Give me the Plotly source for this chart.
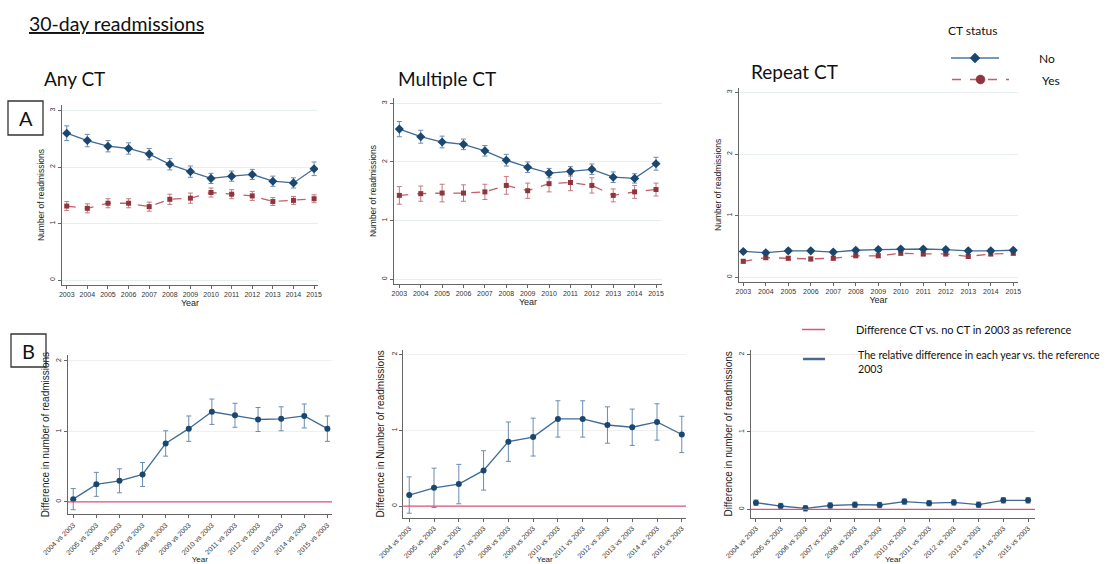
import plotly.graph_objects as go

W, H = 1107, 564

years = list(range(2003, 2016))
diff_labels = [f"{y} vs 2003" for y in range(2004, 2016)]

# Panel A: Any CT
any_no = [2.60, 2.47, 2.37, 2.33, 2.23, 2.05, 1.92, 1.80, 1.84, 1.87, 1.75, 1.72, 1.97]
any_no_err = [0.13, 0.11, 0.10, 0.10, 0.10, 0.10, 0.10, 0.09, 0.09, 0.09, 0.09, 0.09, 0.12]
any_yes = [1.31, 1.27, 1.36, 1.36, 1.30, 1.43, 1.45, 1.55, 1.52, 1.49, 1.39, 1.41, 1.44]
any_yes_err = [0.08, 0.08, 0.08, 0.08, 0.08, 0.09, 0.09, 0.08, 0.08, 0.08, 0.07, 0.07, 0.07]

# Panel A: Multiple CT
mult_no = [2.56, 2.43, 2.34, 2.30, 2.19, 2.03, 1.91, 1.81, 1.84, 1.875, 1.74, 1.72, 1.97]
mult_no_err = [0.13, 0.11, 0.10, 0.09, 0.09, 0.10, 0.09, 0.08, 0.08, 0.09, 0.09, 0.08, 0.11]
mult_yes = [1.43, 1.46, 1.47, 1.47, 1.49, 1.60, 1.51, 1.63, 1.65, 1.60, 1.43, 1.49, 1.53]
mult_yes_err = [0.15, 0.13, 0.15, 0.14, 0.13, 0.15, 0.13, 0.14, 0.14, 0.13, 0.11, 0.11, 0.11]

# Panel A: Repeat CT
rep_no = [0.42, 0.40, 0.43, 0.43, 0.41, 0.44, 0.45, 0.46, 0.46, 0.45, 0.43, 0.43, 0.44]
rep_no_err = [0.03] * 13
rep_yes = [0.26, 0.32, 0.31, 0.30, 0.31, 0.35, 0.35, 0.39, 0.38, 0.38, 0.34, 0.38, 0.39]
rep_yes_err = [0.03] * 13

# Panel B: differences vs 2003
any_diff = [0.04, 0.25, 0.30, 0.39, 0.83, 1.04, 1.28, 1.23, 1.17, 1.18, 1.22, 1.04]
any_diff_err = [0.15, 0.17, 0.17, 0.17, 0.18, 0.18, 0.18, 0.17, 0.17, 0.17, 0.17, 0.18]
mult_diff = [0.145, 0.24, 0.29, 0.47, 0.85, 0.91, 1.15, 1.15, 1.07, 1.04, 1.11, 0.945]
mult_diff_err = [0.24, 0.26, 0.26, 0.26, 0.26, 0.25, 0.24, 0.24, 0.24, 0.24, 0.24, 0.24]
rep_diff = [0.086, 0.043, 0.013, 0.05, 0.06, 0.056, 0.10, 0.08, 0.09, 0.06, 0.116, 0.116]
rep_diff_err = [0.035] * 12

NAVY = "#1a476f"
NAVY_LINE = "#3f6b96"
NAVY_ERR = "#6a8cb0"
MAROON = "#90353b"
MAROON_LINE = "#c06068"
MAROON_ERR = "#c07a80"
PINK = "#e0507a"
TICKFONT = dict(family="Liberation Sans, Arial, sans-serif", size=7, color="#333")
LABFONT = "Lato, 'Open Sans', sans-serif"


def px(x):
    return x / W


def py(y):
    return 1 - y / H


fig = go.Figure()

panels_a = [
    ("x", "y", any_no, any_no_err, any_yes, any_yes_err),
    ("x2", "y2", mult_no, mult_no_err, mult_yes, mult_yes_err),
    ("x3", "y3", rep_no, rep_no_err, rep_yes, rep_yes_err),
]
for xa, ya, no, no_e, yes, yes_e in panels_a:
    fig.add_trace(go.Scatter(
        x=years, y=yes, xaxis=xa, yaxis=ya, mode="lines+markers",
        line=dict(color=MAROON_LINE, width=1.3, dash="dash"),
        marker=dict(symbol="square", size=5, color=MAROON),
        error_y=dict(type="data", array=yes_e, color=MAROON_ERR, thickness=1, width=2.5),
        showlegend=False, hoverinfo="x+y"))
    fig.add_trace(go.Scatter(
        x=years, y=no, xaxis=xa, yaxis=ya, mode="lines+markers",
        line=dict(color=NAVY_LINE, width=1.3),
        marker=dict(symbol="diamond", size=7, color=NAVY),
        error_y=dict(type="data", array=no_e, color=NAVY_ERR, thickness=1, width=2.5),
        showlegend=False, hoverinfo="x+y"))

panels_b = [
    ("x4", "y4", any_diff, any_diff_err),
    ("x5", "y5", mult_diff, mult_diff_err),
    ("x6", "y6", rep_diff, rep_diff_err),
]
for xa, ya, d, de in panels_b:
    fig.add_trace(go.Scatter(
        x=list(range(len(diff_labels))), y=d, xaxis=xa, yaxis=ya, mode="lines+markers",
        line=dict(color=NAVY_LINE, width=1.3),
        marker=dict(symbol="circle", size=6, color=NAVY),
        error_y=dict(type="data", array=de, color=NAVY_ERR, thickness=1, width=2.5),
        showlegend=False, hoverinfo="y"))

layout = dict(
    width=W, height=H, margin=dict(l=0, r=0, t=0, b=0, autoexpand=False),
    paper_bgcolor="white", plot_bgcolor="white", showlegend=False,
)

GRID = "#e6eef0"
AXLINE = "#666"


def xaxis_a(dom, rng, anchor):
    return dict(domain=dom, range=rng, anchor=anchor, tickvals=years, automargin=False,
                ticktext=[str(y) for y in years], tickfont=TICKFONT,
                showline=True, linecolor=AXLINE, linewidth=1, ticks="outside",
                ticklen=3, tickcolor=AXLINE, showgrid=False, zeroline=False,
                title=dict(text="Year", font=dict(family="Liberation Sans, Arial", size=9, color="#222"), standoff=2))


def yaxis_a(dom, rng, anchor, title):
    return dict(domain=dom, range=rng, anchor=anchor, tickvals=[0, 1, 2, 3], automargin=False,
                tickfont=TICKFONT, tickangle=-90, showline=True, linecolor=AXLINE,
                linewidth=1, ticks="outside", ticklen=3, tickcolor=AXLINE,
                showgrid=True, gridcolor=GRID, gridwidth=1, zeroline=False,
                title=dict(text=title, font=dict(family="Liberation Sans, Arial", size=8.5, color="#222"), standoff=3))


def xaxis_b(dom, rng, anchor):
    return dict(domain=dom, range=rng, anchor=anchor, tickvals=list(range(len(diff_labels))),
                automargin=False,
                ticktext=diff_labels, tickfont=TICKFONT, tickangle=-45,
                showline=True, linecolor=AXLINE, linewidth=1, ticks="outside",
                ticklen=3, tickcolor=AXLINE, showgrid=False, zeroline=False,
                title=dict(text="Year", font=dict(family="Liberation Sans, Arial", size=8, color="#222"), standoff=2))


def yaxis_b(dom, rng, anchor, title):
    return dict(domain=dom, range=rng, anchor=anchor, tickvals=[0, 1, 2], automargin=False,
                tickfont=TICKFONT, tickangle=-90, showline=True, linecolor=AXLINE,
                linewidth=1, ticks="outside", ticklen=3, tickcolor=AXLINE,
                showgrid=True, gridcolor="#f0f0f0", gridwidth=1, zeroline=False,
                title=dict(text=title, font=dict(family="Liberation Sans, Arial", size=10, color="#222"), standoff=3))


layout["xaxis"] = xaxis_a([px(62), px(318)], [2002.77, 2015.19], "y")
layout["yaxis"] = yaxis_a([py(285), py(105)], [-0.088, 3.1], "x", "Number of readmissions")
layout["xaxis2"] = xaxis_a([px(394), px(662)], [2002.75, 2015.28], "y2")
layout["yaxis2"] = yaxis_a([py(284), py(98)], [-0.08, 3.09], "x2", "Number of readmissions")
layout["xaxis3"] = xaxis_a([px(739), px(1018)], [2002.81, 2015.21], "y3")
layout["yaxis3"] = yaxis_a([py(281.7), py(88)], [-0.07, 3.07], "x3", "Number of readmissions")

layout["xaxis4"] = xaxis_b([px(67.7), px(332)], [-0.24, 11.2], "y4")
layout["yaxis4"] = yaxis_b([py(514.3), py(355)], [-0.175, 2.085], "x4", "Difference in number of readmissions")
layout["xaxis5"] = xaxis_b([px(403.3), px(686)], [-0.24, 11.17], "y5")
layout["yaxis5"] = yaxis_b([py(517.7), py(350)], [-0.154, 2.06], "x5", "Difference in Number of readmissions")
layout["xaxis6"] = xaxis_b([px(751), px(1035)], [-0.2, 11.28], "y6")
layout["yaxis6"] = yaxis_b([py(517.7), py(350)], [-0.108, 2.06], "x6", "Difference in number of readmissions")

fig.update_layout(**layout)

shapes = []
# reference lines at zero in panel B
for xa, ya in [("x4", "y4"), ("x5", "y5"), ("x6", "y6")]:
    shapes.append(dict(type="line", xref=f"{xa} domain", yref=ya, x0=0, x1=1, y0=0, y1=0,
                       line=dict(color=PINK, width=1.3), layer="above"))

# A / B boxes
shapes.append(dict(type="rect", xref="paper", yref="paper", x0=px(8), x1=px(43), y0=py(135), y1=py(101),
                   line=dict(color="#333", width=1.3)))
shapes.append(dict(type="rect", xref="paper", yref="paper", x0=px(11), x1=px(46), y0=py(367), y1=py(334),
                   line=dict(color="#333", width=1.3)))

# Legend A (CT status)
shapes.append(dict(type="line", xref="paper", yref="paper", x0=px(951), x1=px(999), y0=py(58), y1=py(58),
                   line=dict(color="#4a76a0", width=1.3)))
shapes.append(dict(type="path", xref="paper", yref="paper",
                   path=f"M {px(975)},{py(53)} L {px(980)},{py(58)} L {px(975)},{py(63)} L {px(970)},{py(58)} Z",
                   fillcolor=NAVY, line=dict(color=NAVY, width=0.5)))
shapes.append(dict(type="line", xref="paper", yref="paper", x0=px(952), x1=px(1009), y0=py(79.5), y1=py(79.5),
                   line=dict(color=MAROON_LINE, width=1.3, dash="dash")))
shapes.append(dict(type="circle", xref="paper", yref="paper", x0=px(976), x1=px(985), y0=py(84), y1=py(75),
                   fillcolor=MAROON, line=dict(color=MAROON, width=0.5)))

# Legend B
shapes.append(dict(type="line", xref="paper", yref="paper", x0=px(802), x1=px(825), y0=py(329.5), y1=py(329.5),
                   line=dict(color=PINK, width=1.5)))
shapes.append(dict(type="line", xref="paper", yref="paper", x0=px(803), x1=px(825), y0=py(359), y1=py(359),
                   line=dict(color="#4a6a8c", width=2.5)))

fig.update_layout(shapes=shapes)

ann = []


def txt(s, x, y, size, xanchor="left", yanchor="middle", color="#111"):
    ann.append(dict(text=s, x=px(x), y=py(y), xref="paper", yref="paper", showarrow=False,
                    xanchor=xanchor, yanchor=yanchor, align="left",
                    font=dict(family=LABFONT, size=size, color=color)))


txt("<u>30-day readmissions</u>", 27, 24, 19.5)
txt("Any CT", 42, 78, 19)
txt("Multiple CT", 396, 78, 19)
txt("Repeat CT", 749, 72, 19)
txt("A", 25.5, 118, 20, xanchor="center")
txt("B", 28.5, 350.5, 20, xanchor="center")
txt("CT status", 972, 31, 12, xanchor="center")
txt("No", 1037, 59, 12)
txt("Yes", 1040, 81, 12)
txt("Difference CT vs. no CT in 2003 as reference", 854, 329, 11)
txt("The relative difference in each year vs. the reference<br>2003", 856, 362, 10.6)

fig.update_layout(annotations=ann)

fig.write_html("out.html", config={"displayModeBar": False},
               post_script="document.body.style.margin='0px';document.body.style.overflow='hidden';")
